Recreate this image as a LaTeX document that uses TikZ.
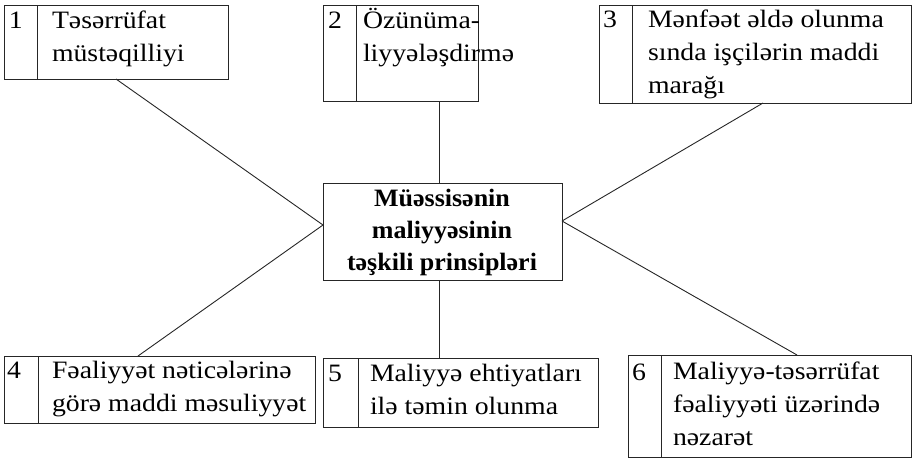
\documentclass[tikz,border=0pt]{standalone}
\usepackage{fontspec}
\setmainfont{Liberation Serif}
\newfontfamily\regf[FakeStretch=1.11]{Liberation Serif}
\newfontfamily\boldf[FakeStretch=1.04]{Liberation Serif Bold}
\usetikzlibrary{calc}
\begin{document}
\begin{tikzpicture}[x=1pt,y=-1pt,line width=0.9pt,
  every node/.style={inner sep=0pt,outer sep=0pt},
  box/.style={draw=black!85,anchor=north west},
  num/.style={anchor=base west,font=\regf\fontsize{25}{33}\selectfont},
  txt/.style={anchor=base west,align=left,font=\regf\fontsize{25}{33}\selectfont},
  ctxt/.style={anchor=base,align=center,font=\boldf\fontsize{25}{32}\selectfont},
  link/.style={draw=black!85}]
\useasboundingbox (0,0) rectangle (912,459);
% boxes
\node[box,minimum width=224pt,minimum height=74pt] (b1) at (4,5) {};
\node[box,minimum width=155pt,minimum height=96pt] (b2) at (323,5) {};
\node[box,minimum width=312pt,minimum height=98pt] (b3) at (599,5) {};
\node[box,minimum width=311pt,minimum height=67pt] (b4) at (4,356) {};
\node[box,minimum width=275pt,minimum height=69pt] (b5) at (323,358) {};
\node[box,minimum width=283pt,minimum height=102pt] (b6) at (628,355) {};
\node[box,minimum width=239pt,minimum height=97pt] (c) at (323,183) {};
% dividers
\draw[link] ($(b1.north west)+(33,0)$) -- ($(b1.south west)+(33,0)$);
\draw[link] ($(b2.north west)+(33,0)$) -- ($(b2.south west)+(33,0)$);
\draw[link] ($(b3.north west)+(33,0)$) -- ($(b3.south west)+(33,0)$);
\draw[link] ($(b4.north west)+(34,0)$) -- ($(b4.south west)+(34,0)$);
\draw[link] ($(b5.north west)+(35,0)$) -- ($(b5.south west)+(35,0)$);
\draw[link] ($(b6.north west)+(33,0)$) -- ($(b6.south west)+(33,0)$);
% numbers
\node[num] (n1) at (9,28) {1};
\node[num] (n2) at (328,28) {2};
\node[num] (n3) at (603,27) {3};
\node[num] (n4) at (7,378) {4};
\node[num] (n5) at (328,381) {5};
\node[num] (n6) at (632,380) {6};
% texts (anchor = baseline of the last line)
\node[txt] (t1) at (52,61) {Təsərrüfat\\müstəqilliyi};
\node[txt] (t2) at (363,61) {Özünüma-\\liyyələşdirmə};
\node[txt] (t3) at (648,93) {Mənfəət əldə olunma\\sında işçilərin maddi\\marağı};
\node[txt] (t4) at (52,411) {Fəaliyyət nəticələrinə\\görə maddi məsuliyyət};
\node[txt] (t5) at (370,414) {Maliyyə ehtiyatları\\ilə təmin olunma};
\node[txt] (t6) at (673,445) {Maliyyə-təsərrüfat\\fəaliyyəti üzərində\\nəzarət};
\node[ctxt] (ct) at (442,270) {Müəssisənin\\maliyyəsinin\\təşkili prinsipləri};
% connectors
\coordinate (cl) at ($(c.north west)+(0,42)$);
\coordinate (cr) at ($(c.north east)+(0,38)$);
\draw[link] (b1.south) -- (cl);
\draw[link] ($(b4.north west)+(134,0)$) -- (cl);
\draw[link] ($(b3.south west)+(164,0)$) -- (cr);
\draw[link] ($(b6.north west)+(169,0)$) -- (cr);
\draw[link] ($(b2.south west)+(116,0)$) -- ($(c.north west)+(116,0)$);
\draw[link] ($(c.south west)+(116,0)$) -- ($(b5.north west)+(116,0)$);
\end{tikzpicture}
\end{document}
